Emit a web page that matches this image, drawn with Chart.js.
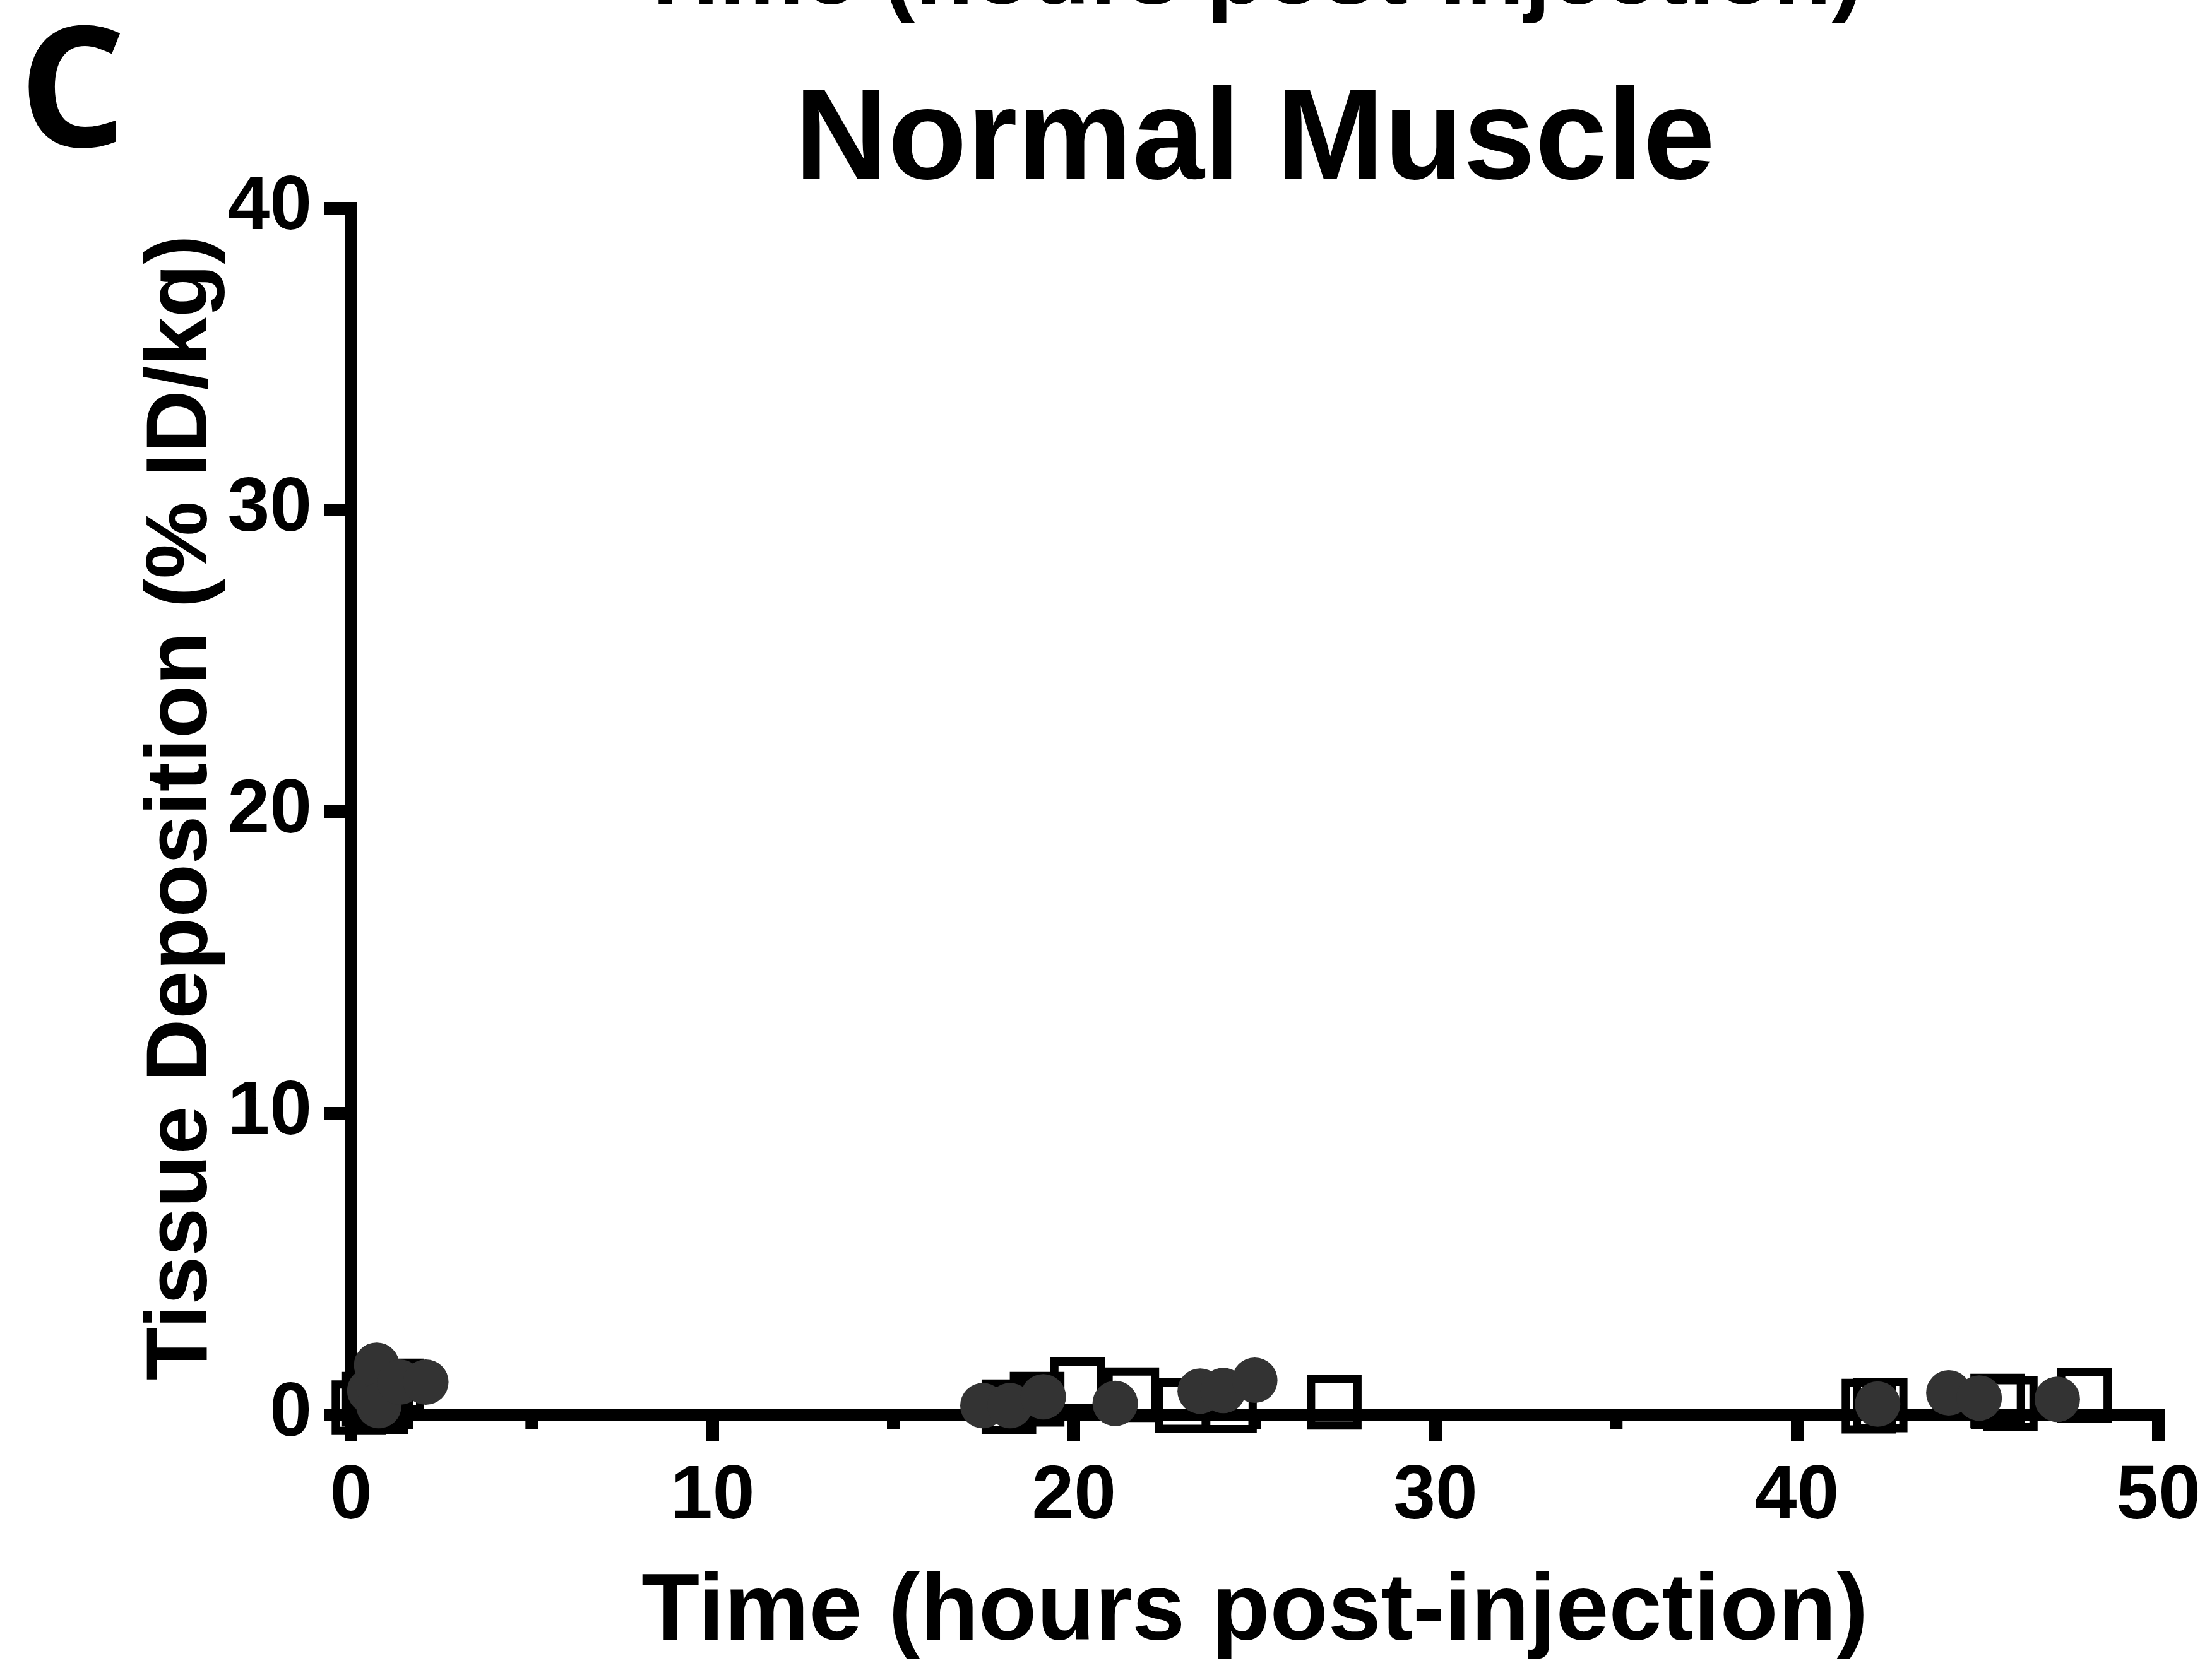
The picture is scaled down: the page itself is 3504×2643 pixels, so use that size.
<!DOCTYPE html>
<html>
<head>
<meta charset="utf-8">
<title>Normal Muscle</title>
<script src="https://cdn.jsdelivr.net/npm/chart.js@4.4.1/dist/chart.umd.min.js"></script>
<style>
    html, body { margin: 0; padding: 0; background: #fff; }
    #wrap { width: 3504px; height: 2643px; position: relative; }
</style>
</head>
<body>
<div id="wrap"><canvas id="muscleChart"></canvas></div>
<script>
// filled circles (hours, %ID/kg)
const circleTimes  = [0.52, 0.71, 0.77, 1.35, 2.07, 17.48, 18.23, 19.15, 21.14, 23.49, 24.13, 25.0, 42.23, 44.2, 45.04, 47.2];
const circleValues = [0.80, 1.65, 0.31, 1.09, 1.09, 0.31, 0.31, 0.60, 0.38, 0.79, 0.81, 1.15, 0.36, 0.73, 0.56, 0.52];

// open squares (hours, %ID/kg)
const squareTimes  = [0.22, 0.49, 0.82, 0.96, 1.27, 18.2, 18.98, 20.1, 21.6, 23.0, 24.3, 27.2, 41.99, 42.3, 45.55, 45.9, 47.95];
const squareValues = [0.24, 0.52, 0.27, 0.44, 0.96, 0.27, 0.52, 1.00, 0.67, 0.31, 0.30, 0.42, 0.29, 0.33, 0.46, 0.38, 0.65];

const xMajorTicks = [0, 10, 20, 30, 40, 50];
const xMinorTicks = [5, 15, 25, 35, 45];
const yTicks = [0, 10, 20, 30, 40];

const panelLetter = 'C';
const chartTitle = 'Normal Muscle';
const xTitle = 'Time (hours post-injection)';
const yTitle = 'Tissue Deposition (% ID/kg)';

const FONT = "'Liberation Sans', Arial, Helvetica, sans-serif";

function toPoints(xs, ys) {
    return xs.map((x, i) => ({ x: x, y: ys[i] }));
}

// minor ticks on x + all the text outside the axes
const panelText = {
    id: 'panelText',
    beforeDatasetsDraw(chart) {
        const ctx = chart.ctx;
        const xs = chart.scales.x;
        ctx.save();
        ctx.strokeStyle = '#000';
        ctx.lineWidth = 20;
        xMinorTicks.forEach(v => {
            const px = xs.getPixelForValue(v);
            ctx.beginPath();
            ctx.moveTo(px, xs.top + 10);
            ctx.lineTo(px, xs.top + 23);
            ctx.stroke();
        });
        ctx.restore();
    },
    afterDraw(chart) {
        const ctx = chart.ctx;
        const area = chart.chartArea;
        const midX = (area.left + area.right) / 2;
        ctx.save();
        ctx.fillStyle = '#000';
        ctx.textBaseline = 'alphabetic';
        ctx.textAlign = 'center';

        // bottom of the x title from the panel above, cut by the page edge
        ctx.font = `bold 151px ${FONT}`;
        ctx.fillText(xTitle, midX - 8, 6);

        ctx.font = `bold 205px ${FONT}`;
        ctx.fillText(chartTitle, midX, area.top - 47);

        ctx.font = `bold 151px ${FONT}`;
        ctx.fillText(xTitle, midX, area.bottom + 356);

        ctx.save();
        ctx.translate(area.left - 229, (area.top + area.bottom) / 2 - 6);
        ctx.rotate(-Math.PI / 2);
        ctx.font = `bold 138px ${FONT}`;
        ctx.fillText(yTitle, 0, 0);
        ctx.restore();

        ctx.textAlign = 'left';
        ctx.font = "bold 266px 'Open Sans', sans-serif";
        ctx.fillText(panelLetter, 30, 232);
        ctx.restore();
    }
};

const ctx = document.getElementById('muscleChart').getContext('2d');

new Chart(ctx, {
    type: 'scatter',
    data: {
        datasets: [
            {
                label: 'filled',
                data: toPoints(circleTimes, circleValues),
                pointStyle: 'circle',
                pointRadius: 36,
                pointBackgroundColor: '#333333',
                pointBorderColor: '#333333',
                pointBorderWidth: 0,
                clip: false,
                order: 0
            },
            {
                label: 'open',
                data: toPoints(squareTimes, squareValues),
                pointStyle: 'rect',
                pointRadius: 52,
                pointBackgroundColor: 'rgba(0,0,0,0)',
                pointBorderColor: '#000000',
                pointBorderWidth: 13,
                clip: false,
                order: 1
            }
        ]
    },
    options: {
        responsive: true,
        maintainAspectRatio: false,
        devicePixelRatio: 1,
        animation: false,
        layout: { padding: { left: 0, right: 76, top: 330, bottom: 0 } },
        plugins: {
            legend: { display: false },
            tooltip: { enabled: false },
            title: { display: false }
        },
        scales: {
            x: {
                type: 'linear',
                min: 0,
                max: 50,
                afterBuildTicks: s => { s.ticks = xMajorTicks.map(v => ({ value: v })); },
                afterFit: s => { s.height = 401; },
                border: { display: true, color: '#000', width: 20 },
                grid: {
                    drawOnChartArea: false,
                    drawTicks: true,
                    tickLength: 41,
                    tickWidth: 20,
                    tickColor: '#000',
                    lineWidth: 20
                },
                ticks: {
                    color: '#000',
                    padding: 18,
                    maxRotation: 0,
                    autoSkip: false,
                    font: { family: FONT, size: 120, weight: 'bold' }
                }
            },
            y: {
                type: 'linear',
                min: 0,
                max: 40,
                afterBuildTicks: s => { s.ticks = yTicks.map(v => ({ value: v })); },
                afterFit: s => { s.width = 556; },
                border: { display: true, color: '#000', width: 20 },
                grid: {
                    drawOnChartArea: false,
                    drawTicks: true,
                    tickLength: 43,
                    tickWidth: 20,
                    tickColor: '#000',
                    lineWidth: 20
                },
                ticks: {
                    color: '#000',
                    padding: 19,
                    autoSkip: false,
                    font: { family: FONT, size: 120, weight: 'bold' }
                }
            }
        }
    },
    plugins: [panelText]
});
</script>
</body>
</html>
